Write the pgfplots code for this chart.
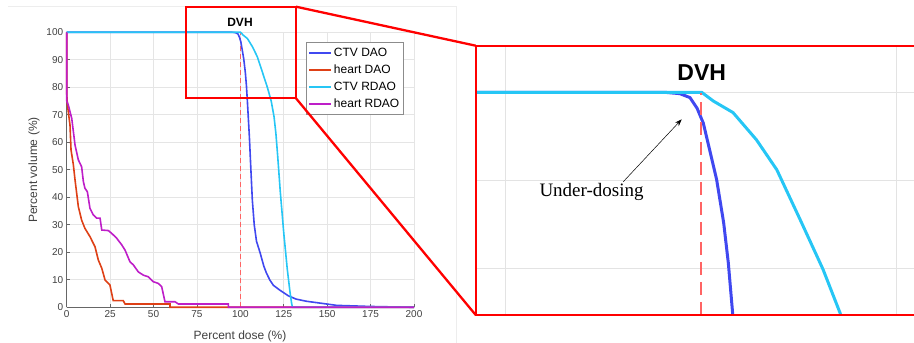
\documentclass[border=0pt]{standalone}
\usepackage{pgfplots}
\usepackage{pgfplotstable}
\pgfplotsset{compat=1.18}
\usepackage{fontspec}
\setmainfont{Liberation Sans}
\newfontfamily\tnr{Liberation Serif}
\usetikzlibrary{arrows.meta}
\definecolor{cdao}{RGB}{64,72,240}
\definecolor{hdao}{RGB}{222,64,22}
\definecolor{crdao}{RGB}{38,198,245}
\definecolor{hrdao}{RGB}{190,30,200}
\definecolor{dashred}{RGB}{255,100,100}

\pgfplotstableread{
x y
0 100
95.4 100
97.3 99.85
98.6 99.4
99.5 98.2
100.3 96.5
101.1 93.5
102 90.1
102.9 85.2
103.5 80.6
104.05 74.9
104.4 71
105.2 62
106 51
106.9 39
108 30
109.3 24
111.3 20
113.5 15
115 12.5
117 9.9
119 8
122.8 6.2
127.6 4.2
132 3
138 2.2
149.7 1.2
155.5 0.7
175 0.3
200 0
}\ctvdao

\pgfplotstableread{
x y
0 100
0 78
0.4 73.6
1.9 66.3
2.5 57.2
3.8 52
4.8 46.3
6.7 36.6
8.6 31.7
10.5 28.7
13.4 25.7
16.3 22
18.2 17.2
20.2 14.2
22.1 9.9
24.9 8.1
26.8 2.4
32.6 2.4
33.6 1.2
59.5 1.2
59.5 0
200 0
}\heartdao

\pgfplotstableread{
x y
0 100
100.1 100
101.6 99
104.1 97.7
107.1 94.6
109.7 91.2
112.7 85.5
115.6 79.9
117.8 74.9
119.4 69.3
120.5 63
121.5 55
123 42
125 27
127 14
128.5 6
129.5 1.5
130 0
200 0
}\ctvrdao

\pgfplotstableread{
x y
0 100
0 75
0.9 73.6
2.9 68.7
4.8 59
6.7 53.6
8.6 51.1
9.6 45.7
10.5 43.3
11.9 42
13.4 36
15.3 33.6
17.3 32.4
19.2 32.4
20.2 28.1
24 27.9
25.9 26.9
28.8 25.1
31.7 22.7
33.6 20.8
36.4 16.6
38.4 15.4
41.2 12.9
44.1 11.7
47 11.1
49.9 9.3
52.7 8.7
54.7 7.5
56.6 2.0
62.4 2.0
64.3 1.2
93.1 1.2
93.1 0
200 0
}\heartrdao

\begin{document}
\begin{tikzpicture}
\useasboundingbox (0,0) rectangle (914pt,343pt);
\draw[black!7, line width=0.6pt] (8pt,336.3pt) -- (456.7pt,336.3pt) -- (456.7pt,0pt);

% main axis
\begin{axis}[
  at={(66.7pt,35.7pt)}, anchor=south west,
  scale only axis, width=347.3pt, height=275pt,
  xmin=0, xmax=200, ymin=0, ymax=100,
  xtick={0,25,...,200}, ytick={0,10,...,100},
  axis lines*=left, axis line style={-, black!60, line width=0.8pt},
  tick align=inside, major tick length=3pt,
  tick style={black!60, line width=0.6pt},
  grid=major, major grid style={black!10, line width=0.7pt},
  tick label style={font=\fontsize{10}{12}\selectfont, text=black!75},
  /pgf/number format/assume math mode=true,
  clip=false,
  legend style={at={(0.689,0.9636)}, anchor=north west, draw=black!45,
    fill=white, font=\fontsize{12}{14}\selectfont,
    inner xsep=2pt, inner ysep=1.5pt,
    nodes={text height=10pt, text depth=3.2pt},
    cells={anchor=west}},
  legend image code/.code={\draw[#1, line width=1.8pt] (0pt,0pt) -- (22pt,0pt);},
]
\addplot[dashred, dashed, line width=0.8pt, dash pattern=on 5pt off 3pt, forget plot] coordinates {(100,0) (100,100)};
\addplot[cdao, line width=1.6pt] table {\ctvdao};
\addplot[hdao, line width=1.6pt] table {\heartdao};
\addplot[crdao, line width=1.6pt] table {\ctvrdao};
\addplot[hrdao, line width=1.6pt] table {\heartrdao};
\legend{CTV DAO, heart DAO, CTV RDAO, heart RDAO}
\end{axis}

% inset axis
\begin{axis}[
  at={(475.7pt,28pt)}, anchor=south west,
  scale only axis, width=438.3pt, height=269.3pt,
  xmin=71.2, xmax=127.24, ymin=74.7, ymax=105.3,
  axis line style={draw=none},
  xtick={75,125}, ytick={80,90,100},
  xticklabels={}, yticklabels={}, major tick length=0pt,
  grid=major, major grid style={black!11, line width=1.6pt},
]
\addplot[cdao, line width=3pt] table {\ctvdao};
\addplot[crdao, line width=3pt] table {\ctvrdao};
\addplot[dashred, line width=2.4pt, dash pattern=on 13pt off 7pt] coordinates {(100,74.7) (100,99.9)};
\end{axis}

\begin{scope}[x=1pt,y=1pt]
% titles and labels
\node[font=\bfseries\fontsize{12}{14}\selectfont] at (240,321) {DVH};
\node[font=\fontsize{12}{14}\selectfont, text=black!75, anchor=base] at (240,3) {Percent dose (\%)};
\node[font=\fontsize{12}{14}\selectfont, text=black!75, rotate=90] at (34,173) {Percent volume (\%)};
% zoom box and connectors
\draw[red, line width=2.3pt] (185.7,336.3) rectangle (296,244.7);
\draw[red, line width=2.3pt] (296,336.3) -- (475.7,297.3);
\draw[red, line width=2.3pt] (296,244.7) -- (475.7,28);
\draw[red, line width=2.3pt] (925,297.3) -- (475.7,297.3) -- (475.7,28) -- (925,28);
% inset annotations
\node[font=\bfseries\fontsize{23}{26}\selectfont] at (701.7,270) {DVH};
\node[font=\tnr\fontsize{19}{22}\selectfont, anchor=base west, inner sep=0pt] at (539.3,146.3) {Under-dosing};
\draw[-{Stealth[length=7pt,width=5pt]}, line width=0.5pt] (623.3,161.3) -- (681.7,223.7);
\end{scope}
\end{tikzpicture}
\end{document}
